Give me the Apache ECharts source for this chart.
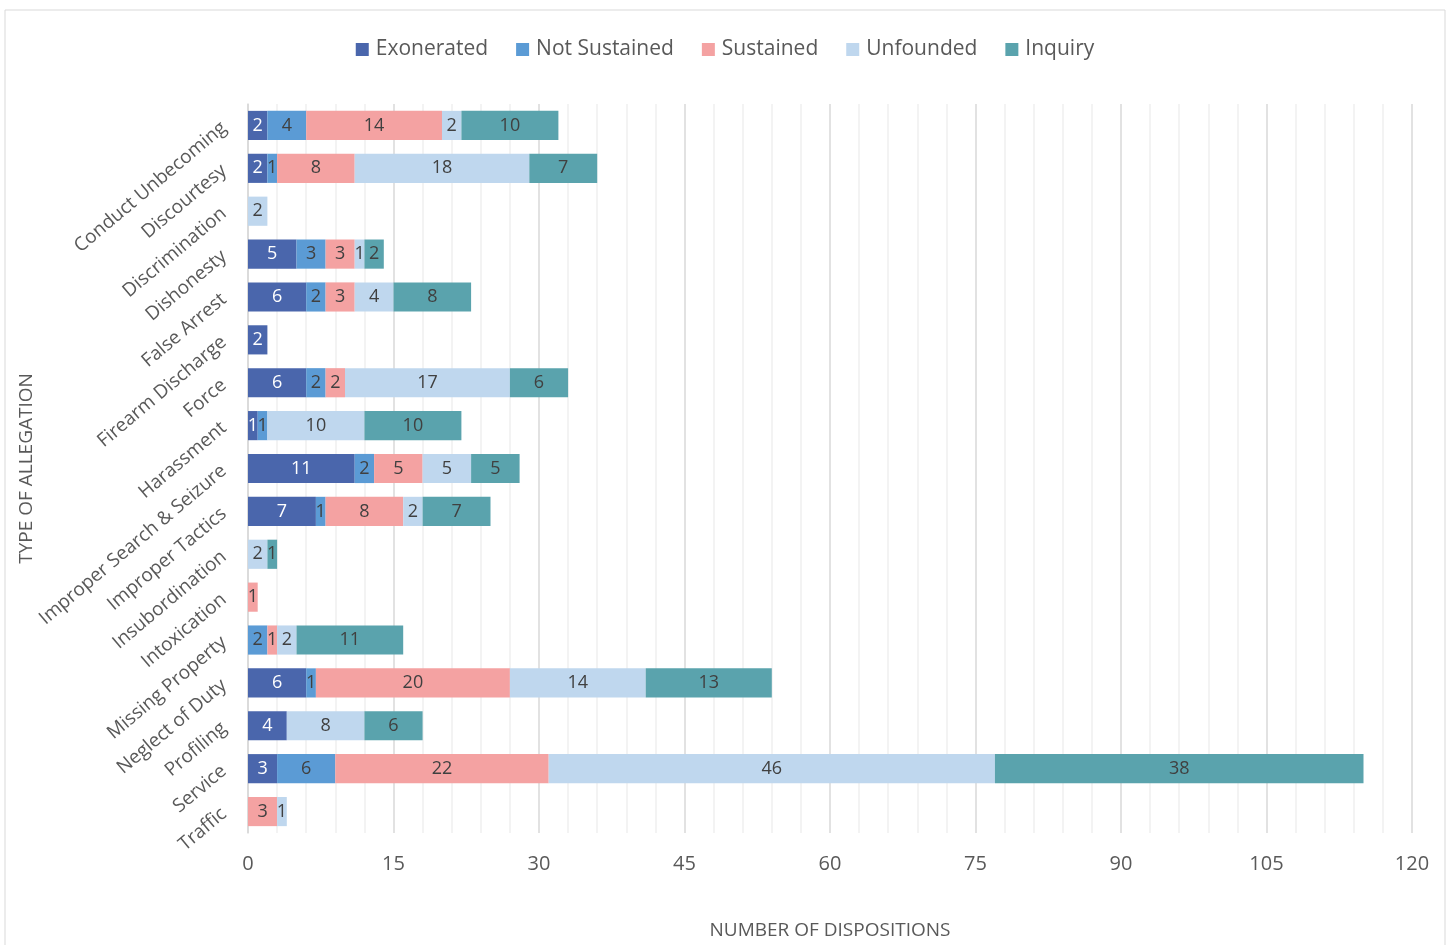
<!DOCTYPE html>
<html>
<head>
<meta charset="utf-8">
<script src="https://cdn.jsdelivr.net/npm/echarts@6/dist/echarts.min.js"></script>
<style>
  html, body { margin: 0; padding: 0; background: #fff; }
  #chart { width: 1450px; height: 945px; }
</style>
</head>
<body>
<div id="chart"></div>
<script>
// categories, top to bottom
var categories = ['Conduct Unbecoming', 'Discourtesy', 'Discrimination', 'Dishonesty', 'False Arrest',
  'Firearm Discharge', 'Force', 'Harassment', 'Improper Search & Seizure', 'Improper Tactics',
  'Insubordination', 'Intoxication', 'Missing Property', 'Neglect of Duty', 'Profiling', 'Service', 'Traffic'];

var exonerated   = [2, 2, null, 5, 6, 2, 6, 1, 11, 7, null, null, null, 6, 4, 3, null];
var notSustained = [4, 1, null, 3, 2, null, 2, 1, 2, 1, null, null, 2, 1, null, 6, null];
var sustained    = [14, 8, null, 3, 3, null, 2, null, 5, 8, null, 1, 1, 20, null, 22, 3];
var unfounded    = [2, 18, 2, 1, 4, null, 17, 10, 5, 2, 2, null, 2, 14, 8, 46, 1];
var inquiry      = [10, 7, null, 2, 8, null, 6, 10, 5, 7, 1, null, 11, 13, 6, 38, null];

var xTicks = [0, 15, 30, 45, 60, 75, 90, 105, 120];

var font = '"Open Sans", "Liberation Sans", sans-serif';

function mkSeries(name, data, color, labelColor) {
  return {
    name: name,
    type: 'bar',
    stack: 'total',
    data: data,
    barWidth: '68%',
    itemStyle: { color: color },
    label: {
      show: true,
      color: labelColor,
      fontSize: 18,
      fontFamily: font
    }
  };
}

var myChart = echarts.init(document.getElementById('chart'));
var option = {
  animation: false,
  graphic: [{
    type: 'rect',
    shape: { x: 5, y: 10, width: 1440, height: 950 },
    style: { fill: 'none', stroke: '#d9d9d9', lineWidth: 1 }
  }],
  legend: {
    top: 34,
    left: 'center',
    itemWidth: 13,
    itemHeight: 13,
    itemGap: 28,
    textStyle: { fontSize: 21, color: '#595959', fontFamily: font, padding: [0, 0, 0, 2] },
    icon: 'rect',
    data: ['Exonerated', 'Not Sustained', 'Sustained', 'Unfounded', 'Inquiry']
  },
  grid: { left: 248, right: 38, top: 104, bottom: 110, containLabel: false },
  xAxis: {
    type: 'value',
    min: 0,
    max: 120,
    interval: 15,
    name: 'NUMBER OF DISPOSITIONS',
    nameLocation: 'middle',
    nameGap: 88,
    nameMoveOverlap: false,
    nameTextStyle: { fontSize: 19, color: '#595959', fontFamily: font },
    axisLine: { show: false },
    axisTick: { show: false },
    axisLabel: {
      fontSize: 20, color: '#595959', fontFamily: font, margin: 21,
      formatter: function (v) { return xTicks.indexOf(v) >= 0 ? String(v) : ''; }
    },
    splitLine: { show: true, lineStyle: { color: '#d9d9d9', width: 1.5 } },
    minorTick: { show: false, splitNumber: 5 },
    minorSplitLine: { show: true, lineStyle: { color: '#efefef', width: 1.5 } }
  },
  yAxis: {
    type: 'category',
    data: categories,
    inverse: true,
    name: 'TYPE OF ALLEGATION',
    nameLocation: 'middle',
    nameGap: 212,
    nameMoveOverlap: false,
    nameTextStyle: { fontSize: 19, color: '#595959', fontFamily: font },
    axisLine: { show: true, lineStyle: { color: '#d9d9d9', width: 1.5 } },
    axisTick: { show: false },
    axisLabel: {
      rotate: 40,
      fontSize: 19,
      color: '#595959',
      fontFamily: font,
      margin: 24
    }
  },
  series: [
    mkSeries('Exonerated', exonerated, '#4a66ac', '#ffffff'),
    mkSeries('Not Sustained', notSustained, '#5b9bd5', '#404040'),
    mkSeries('Sustained', sustained, '#f4a2a2', '#404040'),
    mkSeries('Unfounded', unfounded, '#bfd7ee', '#404040'),
    mkSeries('Inquiry', inquiry, '#5aa3ad', '#404040')
  ]
};
myChart.setOption(option);
</script>
</body>
</html>
